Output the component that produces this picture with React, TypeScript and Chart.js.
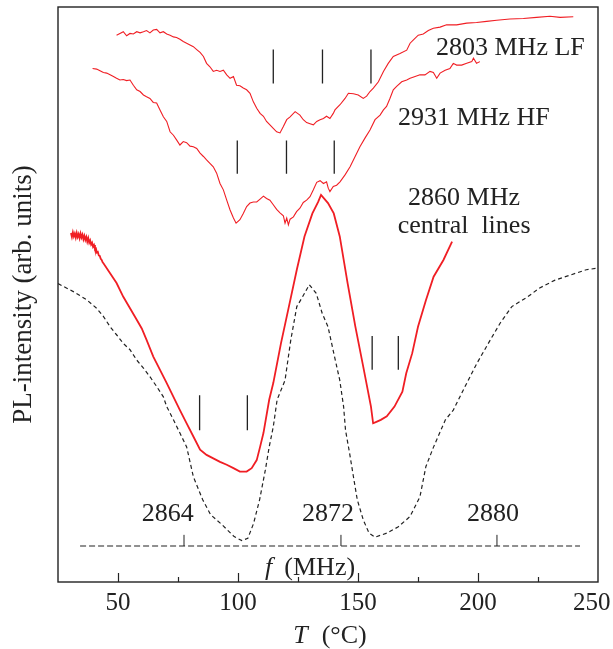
import React, { useEffect, useRef } from 'react';
import { Chart, registerables } from 'chart.js';

Chart.register(...registerables);

// ---- Data (T in °C, PL intensity in arbitrary units) ----
const lfT = [49.4, 50.8, 52.2, 53.6, 55.0, 56.4, 57.8, 59.2, 60.6, 61.9, 63.3, 64.7, 66.1, 67.5, 68.9, 70.3, 71.7, 73.1, 74.4, 75.8, 77.2, 78.6, 80.0, 81.4, 82.8, 84.2, 85.6, 86.9, 88.3, 89.7, 91.1, 92.5, 93.9, 95.3, 96.7, 98.1, 99.4, 100.8, 102.2, 103.6, 105.0, 106.4, 107.8, 109.2, 110.6, 111.9, 113.3, 114.7, 116.1, 117.5, 118.9, 120.3, 121.7, 123.8, 125.8, 127.2, 128.6, 130.0, 131.4, 132.8, 134.2, 135.6, 136.9, 138.3, 139.7, 140.4, 142.5, 144.6, 146.0, 148.1, 150.1, 152.2, 153.6, 155.0, 156.4, 158.5, 160.6, 162.6, 164.7, 167.5, 170.3, 171.7, 173.1, 175.1, 177.2, 179.3, 181.4, 184.2, 186.9, 191.1, 195.3, 199.4, 203.6, 207.8, 213.3, 218.9, 224.4, 230.0, 234.2, 239.7];
const lfI = [95.1, 95.4, 95.7, 95.0, 95.4, 95.3, 95.7, 95.5, 95.7, 95.9, 95.5, 96.0, 96.1, 95.5, 95.7, 95.3, 95.1, 94.8, 94.7, 94.4, 94.0, 93.7, 93.4, 93.1, 92.6, 92.1, 91.4, 90.2, 89.6, 88.8, 89.0, 88.8, 89.0, 88.2, 87.6, 87.9, 86.4, 86.3, 85.9, 85.6, 85.0, 83.5, 82.4, 81.5, 81.0, 80.1, 79.5, 78.9, 78.3, 78.1, 79.2, 80.4, 80.9, 81.8, 81.2, 80.4, 79.9, 79.7, 79.5, 80.1, 80.4, 80.6, 81.0, 80.6, 81.5, 82.1, 83.0, 84.1, 85.0, 84.9, 84.7, 84.1, 84.5, 85.3, 85.9, 87.0, 88.8, 90.2, 91.4, 91.9, 92.5, 93.7, 94.3, 95.1, 95.3, 95.9, 96.3, 96.5, 96.9, 96.9, 97.2, 97.3, 97.5, 97.7, 97.9, 98.0, 98.2, 98.4, 98.2, 98.3];

const hfT = [39.4, 41.1, 42.5, 43.9, 45.3, 46.7, 48.1, 49.4, 50.8, 52.2, 53.6, 55.0, 56.4, 57.8, 59.2, 60.6, 61.9, 63.3, 64.7, 66.1, 67.5, 68.9, 70.3, 71.7, 73.1, 74.4, 75.8, 77.2, 78.6, 80.0, 81.4, 82.8, 84.2, 85.6, 86.9, 88.3, 89.7, 91.1, 92.5, 93.9, 95.3, 96.7, 98.1, 99.2, 100.8, 102.2, 103.6, 105.0, 106.4, 107.8, 109.2, 110.6, 111.9, 113.3, 114.7, 116.1, 117.5, 118.9, 119.6, 120.3, 121.0, 121.7, 123.1, 124.4, 125.8, 127.2, 128.6, 130.0, 131.4, 132.8, 134.2, 135.6, 136.9, 137.6, 138.3, 139.7, 141.1, 142.5, 144.6, 146.7, 148.8, 150.8, 152.9, 155.0, 157.1, 159.2, 160.6, 161.9, 163.3, 164.7, 166.1, 168.2, 170.3, 171.7, 173.8, 175.8, 177.9, 180.0, 181.4, 182.8, 184.2, 186.3, 188.3, 189.7, 191.1, 193.2, 195.3, 197.4, 198.1, 199.4, 200.8];
const hfI = [89.3, 89.2, 88.9, 88.6, 88.5, 88.2, 87.9, 87.6, 87.3, 87.4, 87.2, 87.3, 86.4, 85.6, 85.3, 84.7, 84.4, 84.1, 83.4, 83.3, 82.1, 80.9, 80.1, 78.3, 77.7, 76.9, 76.0, 76.6, 76.4, 75.8, 75.7, 75.4, 74.6, 74.0, 73.4, 72.8, 72.2, 71.1, 69.3, 68.2, 66.4, 64.7, 63.3, 62.4, 63.0, 64.1, 65.3, 65.9, 66.1, 66.1, 66.6, 67.1, 66.7, 66.4, 65.6, 64.8, 64.2, 63.7, 62.4, 63.3, 62.1, 63.1, 63.5, 64.4, 65.0, 66.0, 66.4, 67.0, 68.2, 69.5, 69.8, 69.3, 69.6, 68.5, 67.9, 68.8, 69.0, 69.6, 70.8, 72.2, 74.0, 75.7, 77.2, 78.6, 80.4, 81.2, 82.1, 82.7, 84.1, 85.6, 86.2, 87.0, 87.3, 87.6, 87.9, 88.2, 88.2, 88.8, 88.6, 87.6, 88.5, 89.0, 89.3, 90.2, 89.9, 89.9, 90.2, 90.5, 91.1, 90.2, 90.5];

const centralT = [30.4, 30.8, 31.2, 31.6, 32.0, 32.4, 32.8, 33.2, 33.6, 34.0, 34.4, 34.8, 35.2, 35.6, 36.0, 36.4, 36.8, 37.2, 37.6, 38.0, 38.4, 38.8, 39.2, 39.6, 40.0, 40.4, 40.8, 41.2, 41.6, 42.0, 42.4, 42.8, 43.2, 43.6, 44.0, 46.7, 49.4, 52.2, 55.0, 57.8, 59.9, 61.9, 64.7, 67.5, 70.3, 73.1, 75.8, 78.6, 81.4, 84.2, 86.9, 89.7, 92.5, 95.3, 98.1, 100.8, 103.6, 105.7, 107.8, 109.2, 110.6, 113.0, 114.7, 117.9, 121.2, 124.5, 127.7, 131.0, 133.4, 134.6, 137.5, 139.9, 142.4, 145.7, 148.9, 152.2, 155.4, 156.3, 157.9, 159.5, 162.0, 165.2, 168.5, 170.1, 172.6, 175.0, 178.3, 181.5, 185.6, 189.2];
const centralI = [60.7, 60.0, 60.8, 60.1, 60.6, 59.9, 60.7, 60.0, 60.5, 59.8, 60.6, 59.9, 60.4, 59.6, 60.2, 59.5, 60.0, 59.2, 59.8, 59.0, 59.4, 58.7, 59.0, 58.3, 58.6, 57.9, 58.0, 57.3, 57.4, 56.8, 56.7, 56.2, 56.0, 55.6, 55.4, 53.7, 52.0, 49.6, 47.6, 45.6, 44.1, 42.1, 39.2, 36.9, 34.6, 32.2, 29.9, 27.6, 25.3, 23.0, 22.1, 21.5, 20.9, 20.4, 19.8, 19.2, 19.2, 19.8, 21.2, 23.5, 25.9, 31.7, 34.6, 41.5, 47.9, 54.3, 60.1, 64.1, 66.1, 67.3, 65.9, 64.1, 60.1, 51.9, 44.4, 37.4, 30.5, 27.6, 27.9, 28.2, 28.8, 30.5, 33.1, 36.3, 39.8, 44.4, 49.0, 53.1, 56.0, 59.2];

const freqT = [25.0, 31.4, 36.9, 41.1, 43.9, 46.7, 49.4, 52.2, 55.0, 57.8, 60.6, 63.3, 66.1, 68.9, 70.3, 73.1, 75.8, 78.6, 81.4, 85.3, 88.6, 93.5, 98.4, 101.6, 104.1, 106.5, 109.0, 111.4, 113.0, 114.7, 116.3, 119.6, 122.0, 124.5, 126.9, 129.7, 132.6, 135.1, 137.5, 139.9, 142.4, 144.0, 144.8, 146.5, 148.1, 149.7, 152.2, 154.6, 157.1, 162.0, 166.8, 171.7, 175.8, 178.3, 181.5, 186.4, 189.7, 194.6, 199.5, 204.3, 209.2, 214.1, 220.7, 225.5, 232.1, 238.6, 245.1, 250.0];
const freqI = [51.9, 50.5, 49.1, 47.6, 46.2, 44.4, 43.0, 41.5, 40.4, 38.6, 37.2, 35.7, 34.0, 32.2, 30.5, 28.2, 25.9, 23.5, 18.3, 14.3, 11.7, 9.9, 7.9, 7.2, 7.6, 10.2, 14.3, 19.5, 23.5, 27.0, 31.7, 35.1, 42.1, 47.9, 49.6, 51.7, 50.2, 46.7, 44.4, 39.8, 35.1, 30.5, 26.4, 22.4, 18.3, 14.3, 10.8, 8.5, 7.8, 8.5, 9.6, 11.4, 14.8, 20.1, 23.5, 28.2, 29.9, 34.0, 38.0, 41.5, 45.0, 47.9, 49.6, 51.1, 52.5, 53.4, 54.3, 54.6];

// frequency axis drawn inside the plot
const fAxisT = [34.2, 242.5];
const fAxisI = 6.26;
const fTickT = [77.5, 142.9, 207.9];
const fTickTop = 8.2;
const fTickLabels = ['2864', '2872', '2880'];
const fLabelT = [70.7, 137.5, 206.3];
const fLabelI = 10.6;

// vertical marker bars: [lower, upper]
const lfMarkT = [114.7, 135.2, 155.4];
const lfMarkRange = [86.7, 92.6];
const hfMarkT = [99.7, 120.2, 140.1];
const hfMarkRange = [71.0, 76.8];
const cMarkLeftT = [84.0, 103.9];
const cMarkLeftRange = [26.4, 32.5];
const cMarkRightT = [155.9, 166.8];
const cMarkRightRange = [36.9, 42.8];

const xTicks = [50, 100, 150, 200, 250];
const xMinorTicks = [75, 125, 175, 225];

const RED = 'rgb(240, 30, 36)';
const SERIF = '"Liberation Serif", "Times New Roman", serif';

const pts = (xs: number[], ys: number[]) => xs.map((x, i) => ({ x, y: ys[i] }));
const bars = (xs: number[], range: number[]) => {
  const out: any[] = [];
  xs.forEach((x) => {
    out.push({ x, y: range[0] });
    out.push({ x, y: range[1] });
    out.push({ x, y: null });
  });
  return out;
};

const extras = {
  id: 'extras',
  afterDraw(chart: any) {
    const { ctx, chartArea: a, scales } = chart;
    const xs = scales.x;
    const ys = scales.y;
    ctx.save();
    // frame
    ctx.strokeStyle = '#222';
    ctx.lineWidth = 1.4;
    ctx.strokeRect(a.left, a.top, a.right - a.left, a.bottom - a.top);
    // inward ticks
    ctx.lineWidth = 1.2;
    xTicks.forEach((v) => {
      if (v >= 250) return;
      const px = Math.round(xs.getPixelForValue(v)) + 0.5;
      ctx.beginPath();
      ctx.moveTo(px, a.bottom);
      ctx.lineTo(px, a.bottom - 9);
      ctx.stroke();
    });
    xMinorTicks.forEach((v) => {
      const px = Math.round(xs.getPixelForValue(v)) + 0.5;
      ctx.beginPath();
      ctx.moveTo(px, a.bottom);
      ctx.lineTo(px, a.bottom - 5);
      ctx.stroke();
    });
    // texts
    ctx.fillStyle = '#222';
    ctx.textBaseline = 'alphabetic';
    ctx.font = `26px ${SERIF}`;
    ctx.textAlign = 'left';
    ctx.fillText('2803 MHz LF', xs.getPixelForValue(182.5), ys.getPixelForValue(91.65));
    ctx.fillText('2931 MHz HF', xs.getPixelForValue(166.7), ys.getPixelForValue(79.5));
    ctx.textAlign = 'center';
    ctx.fillText('2860 MHz', xs.getPixelForValue(194.2), ys.getPixelForValue(65.6));
    ctx.fillText('central  lines', xs.getPixelForValue(194.2), ys.getPixelForValue(60.7));
    // frequency tick labels
    fTickLabels.forEach((lab, i) => {
      ctx.fillText(lab, xs.getPixelForValue(fLabelT[i]), ys.getPixelForValue(fLabelI));
    });
    // f (MHz)
    ctx.textAlign = 'left';
    let fx = xs.getPixelForValue(111.3);
    const fy = ys.getPixelForValue(1.2);
    ctx.font = `italic 26px ${SERIF}`;
    ctx.fillText('f', fx, fy);
    fx += ctx.measureText('f').width + 12;
    ctx.font = `26px ${SERIF}`;
    ctx.fillText('(MHz)', fx, fy);
    // x title: T (°C)
    ctx.font = `italic 26px ${SERIF}`;
    const tW = ctx.measureText('T').width;
    ctx.font = `26px ${SERIF}`;
    const cW = ctx.measureText('(°C)').width;
    const gap = 14;
    let tx = (a.left + a.right) / 2 + 2 - (tW + gap + cW) / 2;
    const ty = a.bottom + 61;
    ctx.font = `italic 26px ${SERIF}`;
    ctx.fillText('T', tx, ty);
    tx += tW + gap;
    ctx.font = `26px ${SERIF}`;
    ctx.fillText('(°C)', tx, ty);
    ctx.restore();
  },
};

export default function App() {
  const ref = useRef<HTMLCanvasElement>(null);
  useEffect(() => {
    if (!ref.current) return;
    const thin = { borderColor: RED, borderWidth: 1.1, pointRadius: 0, tension: 0, fill: false };
    const blackBar = { borderColor: '#222', borderWidth: 1.3, pointRadius: 0, spanGaps: false, fill: false };
    const chart = new Chart(ref.current, {
      type: 'line',
      data: {
        datasets: [
          { label: '2803 MHz LF', data: pts(lfT, lfI), ...thin },
          { label: '2931 MHz HF', data: pts(hfT, hfI), ...thin },
          { label: '2860 MHz central lines', data: pts(centralT, centralI), ...thin, borderWidth: 1.8 },
          { label: 'frequency', data: pts(freqT, freqI), borderColor: '#222', borderWidth: 1.2, borderDash: [4, 3], pointRadius: 0, fill: false },
          { label: 'f axis', data: fAxisT.map((x) => ({ x, y: fAxisI })), borderColor: '#222', borderWidth: 1.2, borderDash: [6, 3], pointRadius: 0, fill: false },
          { label: 'f ticks', data: bars(fTickT, [fAxisI, fTickTop]), ...blackBar, borderWidth: 1 },
          { label: 'LF marks', data: bars(lfMarkT, lfMarkRange), ...blackBar },
          { label: 'HF marks', data: bars(hfMarkT, hfMarkRange), ...blackBar },
          { label: 'C marks L', data: bars(cMarkLeftT, cMarkLeftRange), ...blackBar },
          { label: 'C marks R', data: bars(cMarkRightT, cMarkRightRange), ...blackBar },
        ],
      },
      options: {
        responsive: false,
        animation: false,
        events: [],
        layout: { padding: { left: 0, top: 7, right: 15, bottom: 0 } },
        plugins: { legend: { display: false }, tooltip: { enabled: false } },
        scales: {
          x: {
            type: 'linear',
            min: 25,
            max: 250,
            afterBuildTicks: (s: any) => { s.ticks = xTicks.map((v) => ({ value: v })); },
            afterFit: (s: any) => { s.height = 67; s.paddingLeft = 0; s.paddingRight = 0; },
            grid: { display: false },
            border: { display: false },
            ticks: {
              color: '#222',
              font: { family: SERIF, size: 25 },
              padding: -2,
              maxRotation: 0,
              autoSkip: false,
              callback: (v: any) => (v === 250 ? '250\u0020\u0020' : String(v)),
            },
          },
          y: {
            min: 0,
            max: 100,
            afterFit: (s: any) => { s.width = 58; },
            grid: { display: false },
            border: { display: false },
            ticks: { display: false },
            title: {
              display: true,
              text: 'PL-intensity (arb. units)',
              color: '#222',
              font: { family: SERIF, size: 27 },
              padding: { top: 8, bottom: 0 },
            },
          },
        },
      },
      plugins: [extras],
    });
    return () => chart.destroy();
  }, []);
  return (
    <div style={{ position: 'absolute', left: 0, top: 0, width: 613, height: 649, background: '#fff' }}>
      <canvas ref={ref} width={613} height={649} style={{ display: 'block' }} />
    </div>
  );
}
